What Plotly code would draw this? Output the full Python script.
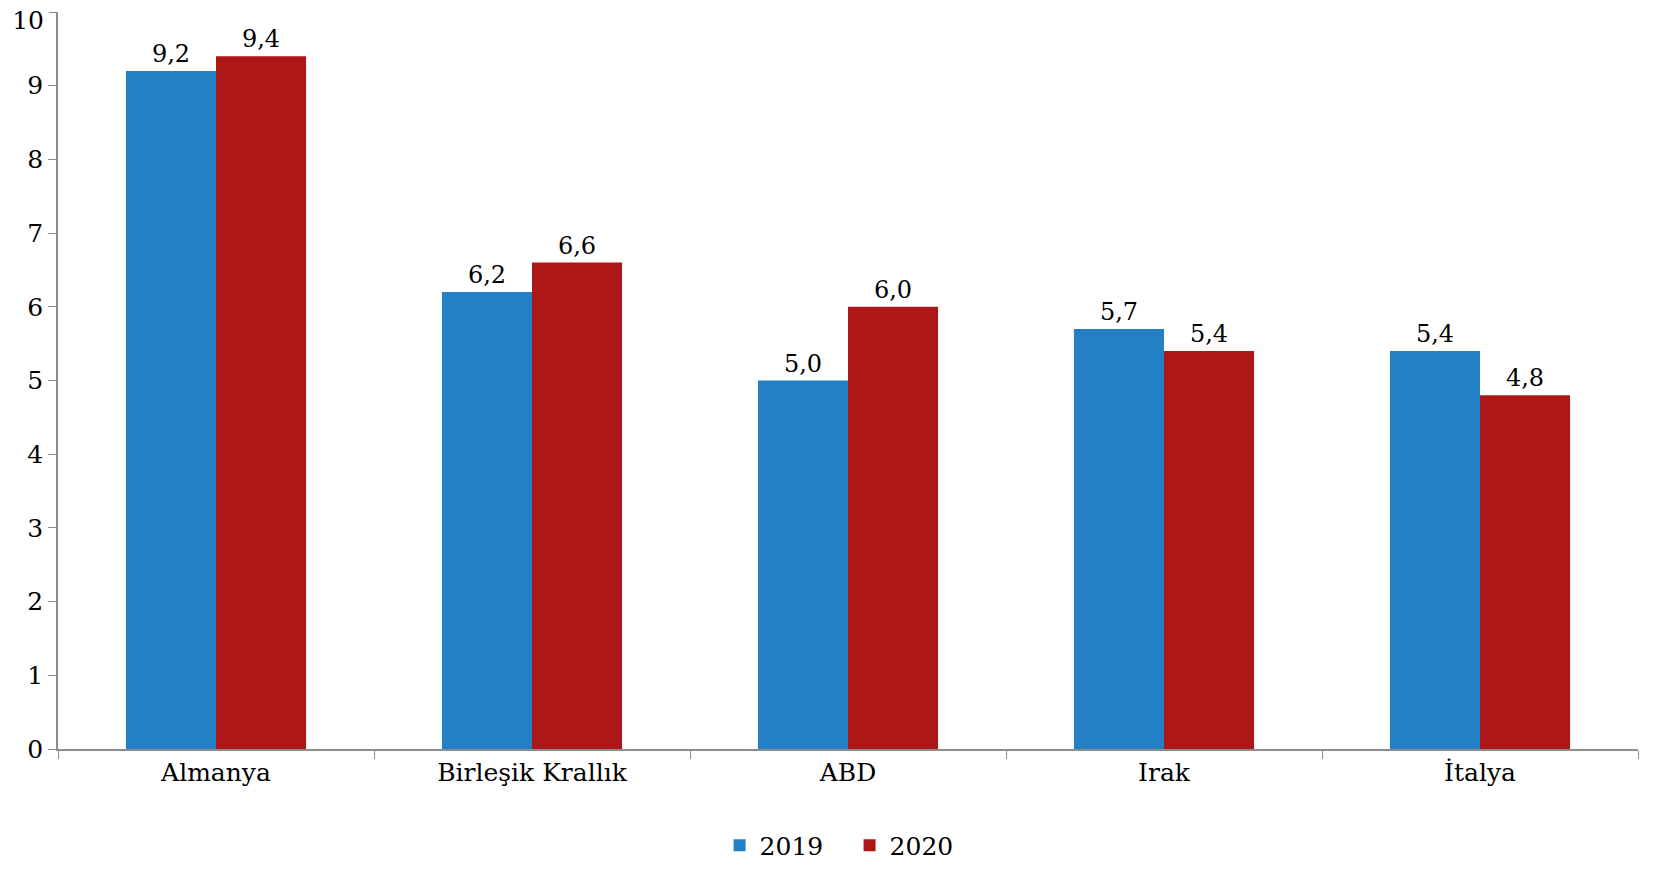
import plotly.graph_objects as go

categories = ["Almanya", "Birleşik Krallık", "ABD", "Irak", "İtalya"]
values_2019 = [9.2, 6.2, 5.0, 5.7, 5.4]
values_2020 = [9.4, 6.6, 6.0, 5.4, 4.8]
series_names = ["2019", "2020"]
y_ticks = [0, 1, 2, 3, 4, 5, 6, 7, 8, 9, 10]
colors = ["#2480C5", "#AE1717"]
font_family = "DejaVu Serif"

fig = go.Figure()
for name, vals, col in zip(series_names, [values_2019, values_2020], colors):
    fig.add_trace(go.Bar(
        x=categories, y=vals, name=name, marker_color=col,
        marker_line_width=0,
        texttemplate="%{y:.1f}", textposition="outside",
        textfont=dict(family=font_family, size=24, color="black"),
        cliponaxis=False,
    ))

# helper (invisible) trace so the overlay axis carrying the top "10" label is drawn
fig.add_trace(go.Scatter(x=categories[:1], y=[0], yaxis="y2", mode="markers",
                         marker=dict(opacity=0, size=1), showlegend=False,
                         hoverinfo="skip"))

axis_common = dict(range=[0, 10], ticks="outside", ticklen=8, tickcolor="#8c8c8c",
                   showgrid=False, zeroline=False, automargin=False,
                   ticklabeloverflow="allow", tickfont=dict(size=25))

fig.update_layout(
    width=1643, height=864,
    margin=dict(l=50, r=13, t=4, b=123),
    barmode="group", bargap=0.43, bargroupgap=0,
    separators=", ",
    plot_bgcolor="white", paper_bgcolor="white",
    font=dict(family=font_family, size=24, color="black"),
    legend=dict(orientation="h", x=0.501, xanchor="center", y=-0.162, yanchor="bottom",
                font=dict(family=font_family, size=25), itemwidth=30, entrywidth=85),
    xaxis=dict(showline=True, linecolor="#8c8c8c", linewidth=1.5, automargin=False,
               ticks="outside", tickson="boundaries", ticklen=8, tickcolor="#8c8c8c",
               tickfont=dict(size=25), showgrid=False),
    yaxis=dict(tickvals=y_ticks[:-1], showline=True, linecolor="#8c8c8c",
               linewidth=1.5, **axis_common),
    yaxis2=dict(tickvals=y_ticks[-1:], overlaying="y", side="left", anchor="x",
                showline=False, ticklabelshift=8, **axis_common),
)

fig.write_html("out.html")
